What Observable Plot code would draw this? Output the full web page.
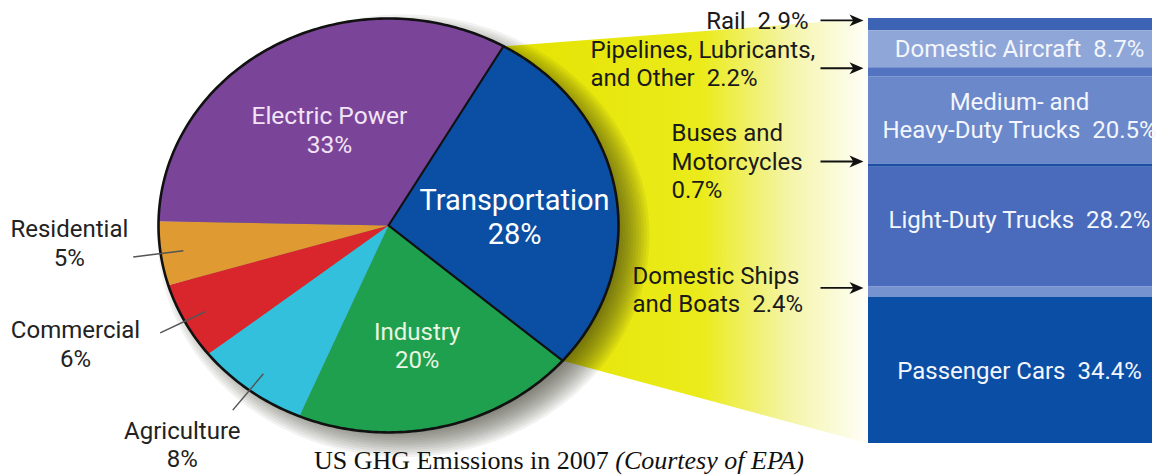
<!DOCTYPE html>
<html>
<head>
<meta charset="utf-8">
<script src="https://cdn.jsdelivr.net/npm/d3@7"></script>
<script src="https://cdn.jsdelivr.net/npm/@observablehq/plot@0.6"></script>
<style>
  body { margin: 0; background: #fff; }
  #wrap { position: relative; width: 1159px; height: 476px; overflow: hidden; }
  #cap { position: absolute; left: 0; top: 446px; width: 1118px; text-align: center;
         font-family: "Liberation Serif", "DejaVu Serif", serif; font-size: 26px; line-height: 30px; color: #111; }
</style>
</head>
<body>
<div id="wrap"><div id="chart"></div><div id="cap">US GHG Emissions in 2007 <i>(Courtesy of EPA)</i></div></div>
<script>
// ---------- DATA ----------
const sectors = ["Transportation", "Industry", "Agriculture", "Commercial", "Residential", "Electric Power"];
const sectorShares = [28, 20, 8, 6, 5, 33];

const modes = ["Rail", "Domestic Aircraft", "Pipelines, Lubricants, and Other", "Medium- and Heavy-Duty Trucks",
               "Buses and Motorcycles", "Light-Duty Trucks", "Domestic Ships and Boats", "Passenger Cars"];
const modeShares = [2.9, 8.7, 2.2, 20.5, 0.7, 28.2, 2.4, 34.4];
const modeLabels = ["Rail\u00a0 2.9%", "Domestic Aircraft\u00a0 8.7%", "Pipelines, Lubricants,\nand Other\u00a0 2.2%",
                    "Medium- and\nHeavy-Duty Trucks\u00a0 20.5%", "Buses and\nMotorcycles\n0.7%",
                    "Light-Duty Trucks\u00a0 28.2%", "Domestic Ships\nand Boats\u00a0 2.4%", "Passenger Cars\u00a0 34.4%"];

// ---------- STYLE / LAYOUT ----------
const sectorColors = ["#0b4fa4", "#1fa04f", "#33c0dd", "#d9252c", "#df9a31", "#7a4599"];
const modeColors = ["#3d63b5", "#8fa6d8", "#5173c0", "#6b88ca", "#1d4ea6", "#4a6bbb", "#7693d0", "#0b4ea6"];
const pie = {cx: 388, rx: 230, cy: 48.7, ry: 48.7, start: 30};
const bar = {x1: 868, x2: 1152, textX: 1019};
const pieLabelLayout = {
  "Transportation": {r: 0.55, da: 5, size: 29, lh: 1.16, fill: "#ffffff", inside: true},
  "Industry": {r: 0.59, da: 1, size: 24, lh: 1.19, fill: "#e9f6e2", inside: true},
  "Electric Power": {r: 0.53, da: 0.4, size: 24.5, lh: 1.19, fill: "#f2e4f6", inside: true},
  "Residential": {r: 1.39, da: 4.4, size: 24, lh: 1.2, fill: "#222", inside: false},
  "Commercial": {r: 1.475, da: 4.9, size: 24, lh: 1.18, fill: "#222", inside: false},
  "Agriculture": {r: 1.386, da: 3.1, size: 24, lh: 1.18, fill: "#222", inside: false}
};
const arrowLayout = {
  "Rail": {x: 808, anchor: "end", dy: -0.2},
  "Pipelines, Lubricants, and Other": {x: 590, anchor: "start", dy: -1.2},
  "Buses and Motorcycles": {x: 671, anchor: "start", dy: -0.2},
  "Domestic Ships and Boats": {x: 632, anchor: "start", dy: 0.3}
};
const insideNudge = {"Domestic Aircraft": -0.4, "Medium- and Heavy-Duty Trucks": -1.3, "Light-Duty Trucks": -2, "Passenger Cars": 0};

// ---------- GEOMETRY FROM DATA ----------
const RAD = Math.PI / 180;
const pt = (a, r = 1) => ({x: pie.cx + pie.rx * r * Math.sin(a * RAD), y: pie.cy - pie.ry * r * Math.cos(a * RAD)});

let acc = pie.start;
const slices = sectors.map((name, i) => {
  const a0 = acc, a1 = acc + sectorShares[i] * 3.6; acc = a1;
  return {name, share: sectorShares[i], a0, a1, mid: (a0 + a1) / 2};
});
const slicePts = slices.flatMap(s => {
  const pts = [{name: s.name, ...pt(0, 0)}];
  for (let a = s.a0; a < s.a1; a += 0.5) pts.push({name: s.name, ...pt(a)});
  pts.push({name: s.name, ...pt(s.a1)});
  return pts;
});
const ellipse = d3.range(0, 360, 1).map(a => pt(a));
// soft drop shadow built from stacked translucent ellipses
const shadowLayers = d3.range(14).flatMap(k => {
  const s = 0.92 + 0.0115 * k;
  return d3.range(0, 360, 2).map(a => { const p = pt(a, s); return {k, x: p.x + 15, y: p.y + 2.4}; });
});
const T = slices[0];
const funnel = [pt(T.a0), {x: bar.x1, y: 0}, {x: bar.x1, y: 100}, pt(T.a1)];
const transEdges = [pt(T.a0), pt(0, 0), pt(T.a1)];

const pieLabels = slices.map(s => {
  const L = pieLabelLayout[s.name];
  return {name: s.name, text: `${s.name}\n${s.share}%`, ...pt(s.mid + L.da, L.r), ...L};
});
const leaders = slices.filter(s => !pieLabelLayout[s.name].inside).map(s => {
  const a = pt(s.mid, 0.9), b = pt(s.mid, 1.12);
  return {x1: a.x, y1: a.y, x2: b.x, y2: b.y};
});

let cum = 0;
const segs = modes.map((name, i) => {
  const y1 = cum, y2 = cum + modeShares[i]; cum = y2;
  return {name, label: modeLabels[i], y1, y2, mid: (y1 + y2) / 2};
});
const insideSegs = segs.filter(s => !(s.name in arrowLayout)).map(s => ({...s, ty: s.mid + insideNudge[s.name]}));
const outsideSegs = segs.filter(s => s.name in arrowLayout).map(s => ({...s, ...arrowLayout[s.name], ay: s.mid - 1, ty: s.mid - 1 + arrowLayout[s.name].dy}));

const stealth = {
  draw(ctx, size) {
    const s = Math.sqrt(size / Math.PI);
    ctx.moveTo(s, 0); ctx.lineTo(-s, -0.85 * s); ctx.lineTo(-0.45 * s, 0); ctx.lineTo(-s, 0.85 * s); ctx.closePath();
  }
};

const font = "Roboto, 'Liberation Sans', sans-serif";
const pieLabelMarks = pieLabels.map(d => Plot.text([d], {x: "x", y: "y", text: "text", fill: d.fill, fontSize: d.size, fontFamily: font, lineHeight: d.lh}));

const svg = Plot.plot({
  width: 1159, height: 476,
  margin: 0,
  axis: null,
  x: {domain: [0, 1159], range: [0, 1159]},
  y: {domain: [0, 100], range: [18, 443]},
  color: {domain: [...sectors, ...modes], range: [...sectorColors, ...modeColors]},
  style: {background: "transparent", overflow: "visible"},
  marks: [
    Plot.line(funnel, {x: "x", y: "y", fill: "url(#funnelGrad)", stroke: "none", curve: "linear-closed"}),
    Plot.line(shadowLayers, {x: "x", y: "y", z: "k", fill: "#1a1a10", fillOpacity: 0.06, stroke: "none", curve: "linear-closed"}),
    Plot.line(slicePts, {x: "x", y: "y", z: "name", fill: "name", stroke: "none", curve: "linear-closed"}),
    Plot.line(ellipse, {x: "x", y: "y", stroke: "#111", strokeWidth: 2.6, fill: "none", curve: "linear-closed"}),
    Plot.line(transEdges, {x: "x", y: "y", stroke: "#111", strokeWidth: 2.2}),
    Plot.link(leaders, {x1: "x1", y1: "y1", x2: "x2", y2: "y2", stroke: "#555", strokeWidth: 1.5}),
    ...pieLabelMarks,
    Plot.rect(segs, {x1: bar.x1, x2: bar.x2, y1: "y1", y2: "y2", fill: "name"}),
    Plot.text(insideSegs, {x: bar.textX, y: "ty", text: "label", fill: "#f3f6fc", fontSize: 24, fontFamily: font, lineHeight: 1.18}),
    Plot.link(outsideSegs, {x1: 820, x2: 856, y1: "ay", y2: "ay", stroke: "#111", strokeWidth: 1.8}),
    Plot.dot(outsideSegs, {x: 856, y: "ay", symbol: stealth, r: 7, fill: "#111", stroke: "none"}),
    Plot.text(outsideSegs.filter(d => d.anchor === "end"), {x: "x", y: "ty", text: "label", textAnchor: "end", fill: "#1a1a1a", fontSize: 24, fontFamily: font, lineHeight: 1.18}),
    Plot.text(outsideSegs.filter(d => d.anchor === "start"), {x: "x", y: "ty", text: "label", textAnchor: "start", fill: "#1a1a1a", fontSize: 24, fontFamily: font, lineHeight: 1.18})
  ]
});

d3.select(svg).insert("defs", ":first-child").html(`
  <linearGradient id="funnelGrad" gradientUnits="userSpaceOnUse" x1="500" y1="0" x2="868" y2="0">
    <stop offset="0" stop-color="#e4e300"/>
    <stop offset="0.55" stop-color="#ebeb1c"/>
    <stop offset="0.78" stop-color="#f4f4a6"/>
    <stop offset="1" stop-color="#fffffa"/>
  </linearGradient>`);
document.getElementById("chart").appendChild(svg);
</script>
</body>
</html>
